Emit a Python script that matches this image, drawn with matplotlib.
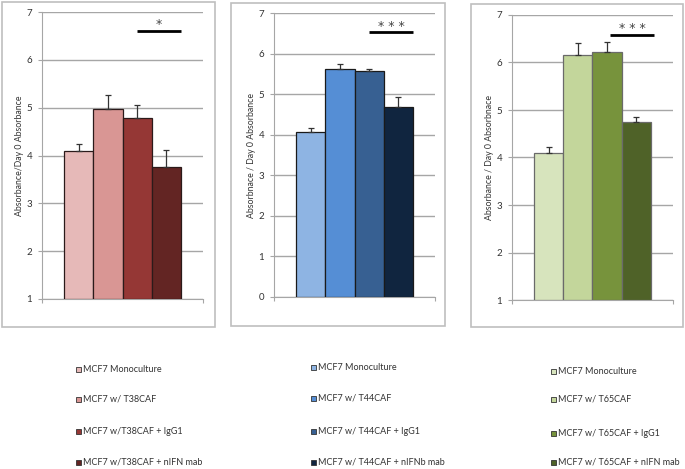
import matplotlib
matplotlib.use("Agg")
import matplotlib.pyplot as plt
from matplotlib.patches import Rectangle

plt.rcParams['font.family'] = ['Lato', 'DejaVu Sans']

# bar heights and upper error
t38_vals = [4.09, 4.98, 4.79, 3.75]
t38_err = [0.16, 0.29, 0.27, 0.37]
t44_vals = [4.08, 5.62, 5.57, 4.68]
t44_err = [0.09, 0.14, 0.05, 0.26]
t65_vals = [4.09, 6.16, 6.23, 4.75]
t65_err = [0.14, 0.24, 0.21, 0.10]

t38_colors = ['#e6b9b8', '#d99694', '#953735', '#632523']
t44_colors = ['#8eb4e3', '#558ed5', '#376092', '#10253f']
t65_colors = ['#d7e4bd', '#c3d69b', '#77933c', '#4f6228']

t38_labels = ['MCF7 Monoculture', 'MCF7 w/ T38CAF', 'MCF7 w/T38CAF + IgG1', 'MCF7 w/T38CAF + nIFN mab']
t44_labels = ['MCF7 Monoculture', 'MCF7 w/ T44CAF', 'MCF7 w/ T44CAF + IgG1', 'MCF7 w/ T44CAF + nIFNb mab']
t65_labels = ['MCF7 Monoculture', 'MCF7 w/ T65CAF', 'MCF7 w/ T65CAF + IgG1', 'MCF7 w/ T65CAF + nIFN mab']

ylabels = ['Absorbance/Day 0 Absorbance', 'Absorbnace / Day 0 Absorbance', 'Absorbance / Day 0 Absorbnace']
stars = ['*', '* * *', '* * *']
ymins = [1, 0, 1]

W, H = 685, 469
fig = plt.figure(figsize=(W / 100, H / 100), dpi=100)

# pixel layout: (axes left, right, top, bottom), (box left, right, top, bottom)
axes_px = [(42, 203, 12, 299), (274, 435, 13.3, 296.7), (512, 673, 15, 300)]
box_px = [(2, 215, 2, 327), (231, 445, 3, 326), (471, 683, 4, 327)]
sig_x = [(2.0, 3.5), (2.0, 3.5), (2.1, 3.6)]
sig_y = [6.60, 6.53, 6.58]
edge_cols = ['#2b1a1a', '#1a1a1a', '#6a6a6a']

legend_rows = [[369, 399, 431, 462], [367, 398, 431, 462], [371, 399, 433, 462]]
legend_sq_x = [76, 311, 551]

panels = [(t38_vals, t38_err, t38_colors, t38_labels),
          (t44_vals, t44_err, t44_colors, t44_labels),
          (t65_vals, t65_err, t65_colors, t65_labels)]

for i, (vals, errs, cols, labs) in enumerate(panels):
    bl, br, bt, bb = box_px[i]
    fig.patches.append(Rectangle((bl / W, 1 - bb / H), (br - bl) / W, (bb - bt) / H,
                                 transform=fig.transFigure, fill=False,
                                 edgecolor='#bfbfbf', lw=1.2))
    al, ar, at, ab = axes_px[i]
    ax = fig.add_axes([al / W, 1 - ab / H, (ar - al) / W, (ab - at) / H])
    xs = list(range(len(vals)))
    bottom = ymins[i]
    ax.bar(xs, [v - bottom for v in vals], bottom=bottom, width=1.0, color=cols,
           edgecolor=edge_cols[i], linewidth=0.9, zorder=3)
    ax.errorbar(xs, vals, yerr=[[0] * 4, errs], fmt='none', ecolor='#333333',
                elinewidth=0.9, capsize=2.5, capthick=0.9, zorder=4)
    ax.set_xlim(-1.25, 4.25)
    ax.set_ylim(bottom, 7)
    ax.set_yticks(range(bottom, 8))
    ax.set_xticks([-1.25, 4.25])
    ax.set_xticklabels(['', ''])
    ax.grid(axis='y', color='#a6a6a6', lw=1, zorder=0)
    for s in ['top', 'right']:
        ax.spines[s].set_visible(False)
    ax.spines['left'].set_color('#a6a6a6')
    ax.spines['bottom'].set_color('#a6a6a6')
    ax.tick_params(axis='y', length=3, color='#a6a6a6', labelsize=7, pad=4,
                   labelcolor='#333333')
    ax.tick_params(axis='x', length=3, color='#a6a6a6')
    ax.text(-22 / (ar - al), 0.5, ylabels[i], transform=ax.transAxes, rotation=90,
            ha='center', va='center', fontsize=6.3, color='#333333')
    x0, x1 = sig_x[i]
    ax.plot([x0, x1], [sig_y[i], sig_y[i]], color='black', lw=2, zorder=5,
            solid_capstyle='butt')
    ax.annotate(stars[i], xy=((x0 + x1) / 2, sig_y[i]), xytext=(0, 2),
                textcoords='offset points', ha='center', va='baseline',
                fontsize=9, color='#444444', family='DejaVu Sans')

    # legend entries below the boxes
    for c, lab, ry in zip(cols, labs, legend_rows[i]):
        sx = legend_sq_x[i]
        fig.patches.append(Rectangle((sx / W, 1 - (ry + 2.5) / H), 5 / W, 5 / H,
                                     transform=fig.transFigure, facecolor=c,
                                     edgecolor='#333333', lw=0.6))
        fig.text((sx + 7) / W, 1 - ry / H, lab, ha='left', va='center',
                 fontsize=6.5, color='#333333')

fig.savefig('out.png', dpi=100, facecolor='white')
